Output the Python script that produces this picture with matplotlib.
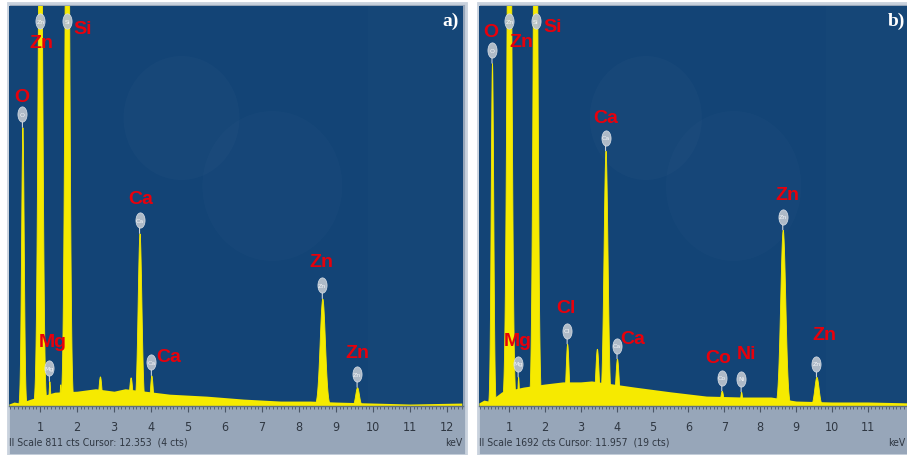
import numpy as np
import matplotlib
matplotlib.use('Agg')
import matplotlib.pyplot as plt
from matplotlib.path import Path
from matplotlib.patches import Rectangle, Ellipse
from matplotlib.transforms import offset_copy

# ---------------- data: panel a) ----------------
a_full_scale = 811
a_info = 'll Scale 811 cts Cursor: 12.353  (4 cts)'
a_bg_kev = [0.16, 0.3, 0.45, 0.75, 1.4, 2.0, 2.5, 3.0, 3.3, 4.5, 5.5, 6.5, 7.5, 8.3, 9.0, 10.0, 11.0, 12.4]
a_bg_cts = [4, 8, 6, 14, 28, 30, 35, 30, 35, 24, 20, 14, 10, 10, 8, 6, 4, 6]
a_peak_kev = [0.525, 1.012, 1.254, 1.55, 1.74, 2.62, 3.45, 3.69, 4.01, 8.63, 9.57]
a_peak_cts = [565, 1300, 50, 44, 1500, 60, 58, 350, 62, 218, 38]
a_peak_sigma = [0.035, 0.055, 0.02, 0.02, 0.055, 0.04, 0.04, 0.05, 0.035, 0.07, 0.05]
a_peak_label = ['O', 'Zn', 'Mg', '', 'Si', '', '', 'Ca', 'Ca', 'Zn', 'Zn']

# ---------------- data: panel b) ----------------
b_full_scale = 1692
b_info = 'll Scale 1692 cts Cursor: 11.957  (19 cts)'
b_bg_kev = [0.16, 0.3, 0.45, 0.8, 1.4, 2.0, 2.5, 3.0, 3.3, 4.5, 5.5, 6.5, 7.5, 8.3, 9.0, 10.0, 11.0, 12.2]
b_bg_cts = [13, 25, 20, 60, 80, 93, 102, 102, 106, 80, 60, 42, 38, 38, 21, 17, 17, 13]
b_peak_kev = [0.525, 1.012, 1.254, 1.74, 2.62, 3.45, 3.69, 4.01, 6.93, 7.47, 8.63, 9.57]
b_peak_cts = [1450, 3000, 123, 3200, 263, 242, 1080, 200, 64, 60, 745, 123]
b_peak_sigma = [0.035, 0.06, 0.02, 0.055, 0.04, 0.045, 0.055, 0.045, 0.04, 0.025, 0.07, 0.06]
b_peak_label = ['O', 'Zn', 'Mg', 'Si', 'Cl', '', 'Ca', 'Ca', 'Co', 'Ni', 'Zn', 'Zn']

tick_kev = list(range(1, 13))

# ---------------- style ----------------
a_lab_dx = [-1, 1, 3, 0, 15, 0, 0, 1, 17, -1, 0]
a_lab_dy = [-18, 21, -27, 0, 7, 0, 0, -22, -6, -24, -22]
b_lab_dx = [-1, 12, 0, 17, -1, 0, 0, 16, -4, 5, 5, 8]
b_lab_dy = [-19, 20, -23, 5, -23, 0, -20, -7, -20, -25, -22, -29]

W, H = 907, 456
BLUE = '#134476'
GREY = '#97a6b9'
FRAME = '#c9d2dd'
YEL = '#f6ea00'
RED = '#e8000b'
NARROW = dict(family=['DejaVu Sans'], fontstretch='condensed')

fig = plt.figure(figsize=(W / 100, H / 100), dpi=100)
fig.patch.set_facecolor('white')

th = np.linspace(0, 2 * np.pi, 60)
ELL = Path(np.column_stack([0.6 * np.cos(th), np.sin(th)]), closed=True)


def fx(px):
    return px / W


def fy(py):
    return 1 - py / H


def panel(x0, x1, ax_right, kev_per_px, kev0, full, info, bg_e, bg_c, pk_e, pk_c,
          pk_s, pk_lab, ldx, ldy, tag, tag_x, tag_ha, kev_x):
    fig.add_artist(Rectangle((fx(x0), 0), fx(x1 - x0), 452 / H, transform=fig.transFigure,
                             facecolor=GREY, edgecolor=FRAME, lw=2, zorder=0))
    left = x0 + 1
    ax = fig.add_axes([fx(left), fy(407), fx(ax_right - left), 400 / H])
    ax.set_facecolor(BLUE)
    xl = kev0
    xr = kev0 + (ax_right - left) * kev_per_px
    ax.set_xlim(xl, xr)
    ax.set_ylim(0, full)
    for s in ['top', 'left', 'right']:
        ax.spines[s].set_visible(False)
    ax.spines['bottom'].set_color('#5f6e80')
    ax.spines['bottom'].set_linewidth(1.0)
    ax.set_yticks([])
    shown = [t for t in tick_kev if t <= xr - 0.25]
    ax.set_xticks(shown)
    ax.set_xticklabels([str(t) for t in shown], **NARROW)
    ax.set_xticks(np.arange(0.2, 12.5, 0.1), minor=True)
    ax.tick_params(axis='x', which='major', direction='out', length=4, width=0.8,
                   color='#4a5666', labelcolor='#2f3742', labelsize=9, pad=6)
    ax.tick_params(axis='x', which='minor', direction='out', length=2.5, width=0.6,
                   color='#4a5666')

    # faint watermark
    ax.add_patch(Ellipse((0.38, 0.72), 116 / 454, 124 / 400, transform=ax.transAxes,
                         facecolor='white', alpha=0.018, lw=0, zorder=0.5))
    ax.add_patch(Ellipse((0.58, 0.55), 140 / 454, 150 / 400, transform=ax.transAxes,
                         facecolor='white', alpha=0.015, lw=0, zorder=0.5))
    ax.add_patch(Rectangle((0.79, 0.0), 0.21, 1.0, transform=ax.transAxes,
                           facecolor='white', alpha=0.012, lw=0, zorder=0.5))

    # spectrum
    ax.fill_between(bg_e, bg_c, color=YEL, lw=0, zorder=2)
    for e, c, s in zip(pk_e, pk_c, pk_s):
        xs = np.linspace(e - 5 * s, e + 5 * s, 121)
        ys = c * np.exp(-0.5 * ((xs - e) / s) ** 2)
        ax.fill_between(xs, ys, color=YEL, lw=0.6, edgecolor=YEL, zorder=2)

    # markers and labels
    for e, c, lab, dx, dy in zip(pk_e, pk_c, pk_lab, ldx, ldy):
        if not lab:
            continue
        if c >= full:
            y0, off = full, -15
        else:
            y0, off = c, 13
            ax.annotate('', xy=(e, c), xycoords='data', xytext=(0, off - 7),
                        textcoords='offset pixels',
                        arrowprops=dict(arrowstyle='-', color='#c8d0d8', lw=0.8,
                                        shrinkA=0, shrinkB=0), zorder=3)
        tr = offset_copy(ax.transData, fig=fig, x=0, y=off, units='dots')
        ax.plot([e], [y0], marker=ELL, ms=11, color='#b7c1cc', mec='#dde3ea', mew=0.5,
                alpha=0.95, transform=tr, zorder=4, clip_on=False, linestyle='none')
        ax.text(e, y0, lab, transform=tr, fontsize=4.5, ha='center', va='center',
                color='#f3f5f8', zorder=5)
        ax.annotate(lab, xy=(e, y0), xycoords='data', xytext=(dx, off - dy),
                    textcoords='offset pixels', ha='center', va='center',
                    fontsize=14, fontweight='bold', color=RED,
                    family=['Liberation Sans', 'DejaVu Sans'], zorder=6,
                    annotation_clip=False)

    fig.text(fx(left), fy(443), info, ha='left', va='center', fontsize=7.5,
             color='#2f3742', **NARROW)
    fig.text(fx(kev_x), fy(443), 'keV', ha='right', va='center', fontsize=7.5,
             color='#2f3742', **NARROW)
    fig.text(fx(tag_x), fy(21), tag, ha=tag_ha, va='center', fontsize=14,
             fontweight='bold', color='white', family=['Liberation Serif', 'DejaVu Serif'])
    return ax


panel(8, 466, 463, 1 / 37.0, 0.162, a_full_scale, a_info, a_bg_kev, a_bg_cts,
      a_peak_kev, a_peak_cts, a_peak_sigma, a_peak_label, a_lab_dx, a_lab_dy,
      'a)', 459, 'right', 462)
panel(478, 922, 918, 1 / 36.7, 0.163, b_full_scale, b_info, b_bg_kev, b_bg_cts,
      b_peak_kev, b_peak_cts, b_peak_sigma, b_peak_label, b_lab_dx, b_lab_dy,
      'b)', 905, 'right', 905)

fig.savefig('out.png', dpi=100, facecolor=fig.get_facecolor())
